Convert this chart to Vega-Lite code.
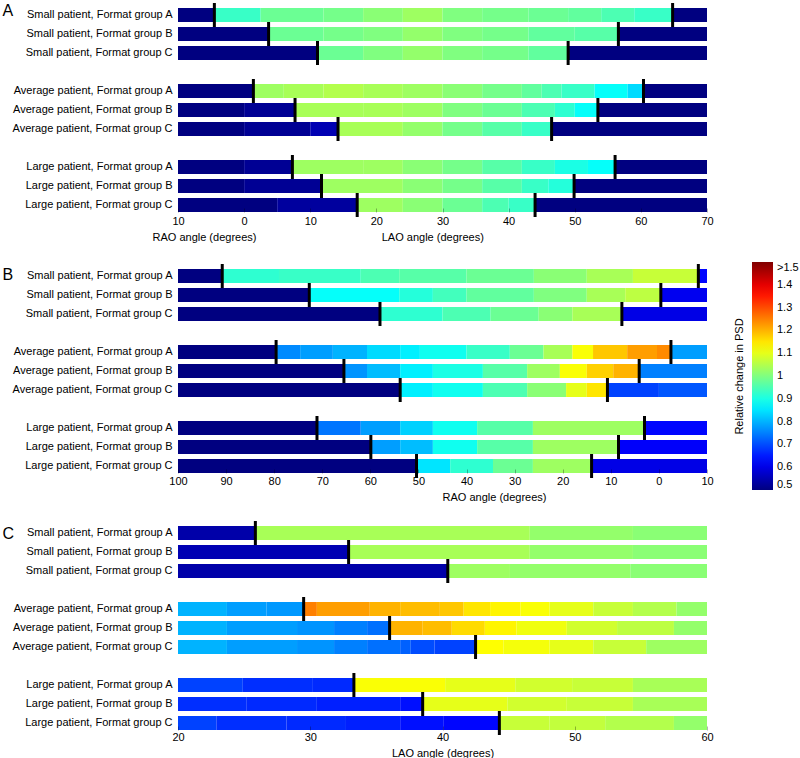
{
  "$schema": "https://vega.github.io/schema/vega-lite/v6.json",
  "padding": {"left": 2, "top": 2, "right": 0, "bottom": 0},
  "background": "white",
  "spacing": 19,
  "config": {
    "font": "Liberation Sans",
    "view": {"stroke": null},
    "axis": {"labelColor": "black", "titleColor": "black", "labelFontSize": 11, "titleFontSize": 11, "titleFontWeight": "normal", "grid": false, "labelFont": "Liberation Sans", "titleFont": "Liberation Sans"},
    "legend": {"labelColor": "black", "titleColor": "black", "labelFontSize": 11, "titleFontSize": 11, "titleFontWeight": "normal"}
  },
  "resolve": {"scale": {"color": "independent", "x": "independent", "y": "independent"}, "legend": {"color": "independent"}},
  "datasets": {
    "A": [
      {"row": "Small patient, Format group A", "x0": -10, "x1": -4.5, "v": 0.5},
      {"row": "Small patient, Format group A", "x0": -4.5, "x1": 2.5, "v": 0.93},
      {"row": "Small patient, Format group A", "x0": 2.5, "x1": 12, "v": 0.98},
      {"row": "Small patient, Format group A", "x0": 12, "x1": 18, "v": 0.99},
      {"row": "Small patient, Format group A", "x0": 18, "x1": 24, "v": 1.01},
      {"row": "Small patient, Format group A", "x0": 24, "x1": 30, "v": 1.03},
      {"row": "Small patient, Format group A", "x0": 30, "x1": 36, "v": 1.0},
      {"row": "Small patient, Format group A", "x0": 36, "x1": 43, "v": 0.99},
      {"row": "Small patient, Format group A", "x0": 43, "x1": 49, "v": 0.98},
      {"row": "Small patient, Format group A", "x0": 49, "x1": 54, "v": 0.97},
      {"row": "Small patient, Format group A", "x0": 54, "x1": 59, "v": 0.95},
      {"row": "Small patient, Format group A", "x0": 59, "x1": 64.8, "v": 0.93},
      {"row": "Small patient, Format group A", "x0": 64.8, "x1": 70, "v": 0.5},
      {"row": "Small patient, Format group B", "x0": -10, "x1": 3.7, "v": 0.5},
      {"row": "Small patient, Format group B", "x0": 3.7, "x1": 12, "v": 0.98},
      {"row": "Small patient, Format group B", "x0": 12, "x1": 18, "v": 0.99},
      {"row": "Small patient, Format group B", "x0": 18, "x1": 24, "v": 1.0},
      {"row": "Small patient, Format group B", "x0": 24, "x1": 30, "v": 1.02},
      {"row": "Small patient, Format group B", "x0": 30, "x1": 36, "v": 1.0},
      {"row": "Small patient, Format group B", "x0": 36, "x1": 43, "v": 0.99},
      {"row": "Small patient, Format group B", "x0": 43, "x1": 50, "v": 0.97},
      {"row": "Small patient, Format group B", "x0": 50, "x1": 56.6, "v": 0.96},
      {"row": "Small patient, Format group B", "x0": 56.6, "x1": 70, "v": 0.5},
      {"row": "Small patient, Format group C", "x0": -10, "x1": 11.1, "v": 0.5},
      {"row": "Small patient, Format group C", "x0": 11.1, "x1": 18, "v": 0.98},
      {"row": "Small patient, Format group C", "x0": 18, "x1": 24, "v": 1.0},
      {"row": "Small patient, Format group C", "x0": 24, "x1": 30, "v": 1.02},
      {"row": "Small patient, Format group C", "x0": 30, "x1": 36, "v": 1.0},
      {"row": "Small patient, Format group C", "x0": 36, "x1": 43, "v": 0.99},
      {"row": "Small patient, Format group C", "x0": 43, "x1": 49, "v": 0.97},
      {"row": "Small patient, Format group C", "x0": 49, "x1": 70, "v": 0.5},
      {"row": "Average patient, Format group A", "x0": -10, "x1": 1.4, "v": 0.5},
      {"row": "Average patient, Format group A", "x0": 1.4, "x1": 6, "v": 1.03},
      {"row": "Average patient, Format group A", "x0": 6, "x1": 12, "v": 1.04},
      {"row": "Average patient, Format group A", "x0": 12, "x1": 18, "v": 1.05},
      {"row": "Average patient, Format group A", "x0": 18, "x1": 24, "v": 1.04},
      {"row": "Average patient, Format group A", "x0": 24, "x1": 30, "v": 1.03},
      {"row": "Average patient, Format group A", "x0": 30, "x1": 36, "v": 1.01},
      {"row": "Average patient, Format group A", "x0": 36, "x1": 42, "v": 0.99},
      {"row": "Average patient, Format group A", "x0": 42, "x1": 45, "v": 0.97},
      {"row": "Average patient, Format group A", "x0": 45, "x1": 48, "v": 0.95},
      {"row": "Average patient, Format group A", "x0": 48, "x1": 53, "v": 0.93},
      {"row": "Average patient, Format group A", "x0": 53, "x1": 58, "v": 0.88},
      {"row": "Average patient, Format group A", "x0": 58, "x1": 60.4, "v": 0.84},
      {"row": "Average patient, Format group A", "x0": 60.4, "x1": 70, "v": 0.5},
      {"row": "Average patient, Format group B", "x0": -10, "x1": 0, "v": 0.5},
      {"row": "Average patient, Format group B", "x0": 0, "x1": 7.7, "v": 0.52},
      {"row": "Average patient, Format group B", "x0": 7.7, "x1": 18, "v": 1.04},
      {"row": "Average patient, Format group B", "x0": 18, "x1": 24, "v": 1.04},
      {"row": "Average patient, Format group B", "x0": 24, "x1": 30, "v": 1.03},
      {"row": "Average patient, Format group B", "x0": 30, "x1": 36, "v": 1.0},
      {"row": "Average patient, Format group B", "x0": 36, "x1": 42, "v": 0.98},
      {"row": "Average patient, Format group B", "x0": 42, "x1": 47, "v": 0.95},
      {"row": "Average patient, Format group B", "x0": 47, "x1": 50, "v": 0.92},
      {"row": "Average patient, Format group B", "x0": 50, "x1": 53.5, "v": 0.88},
      {"row": "Average patient, Format group B", "x0": 53.5, "x1": 70, "v": 0.5},
      {"row": "Average patient, Format group C", "x0": -10, "x1": 0, "v": 0.5},
      {"row": "Average patient, Format group C", "x0": 0, "x1": 10, "v": 0.52},
      {"row": "Average patient, Format group C", "x0": 10, "x1": 14.2, "v": 0.55},
      {"row": "Average patient, Format group C", "x0": 14.2, "x1": 24, "v": 1.04},
      {"row": "Average patient, Format group C", "x0": 24, "x1": 30, "v": 1.02},
      {"row": "Average patient, Format group C", "x0": 30, "x1": 36, "v": 0.99},
      {"row": "Average patient, Format group C", "x0": 36, "x1": 42, "v": 0.96},
      {"row": "Average patient, Format group C", "x0": 42, "x1": 46.5, "v": 0.93},
      {"row": "Average patient, Format group C", "x0": 46.5, "x1": 70, "v": 0.5},
      {"row": "Large patient, Format group A", "x0": -10, "x1": 0, "v": 0.5},
      {"row": "Large patient, Format group A", "x0": 0, "x1": 7.3, "v": 0.52},
      {"row": "Large patient, Format group A", "x0": 7.3, "x1": 18, "v": 1.03},
      {"row": "Large patient, Format group A", "x0": 18, "x1": 24, "v": 1.03},
      {"row": "Large patient, Format group A", "x0": 24, "x1": 30, "v": 1.01},
      {"row": "Large patient, Format group A", "x0": 30, "x1": 36, "v": 0.99},
      {"row": "Large patient, Format group A", "x0": 36, "x1": 42, "v": 0.96},
      {"row": "Large patient, Format group A", "x0": 42, "x1": 47, "v": 0.93},
      {"row": "Large patient, Format group A", "x0": 47, "x1": 52, "v": 0.9},
      {"row": "Large patient, Format group A", "x0": 52, "x1": 56.1, "v": 0.88},
      {"row": "Large patient, Format group A", "x0": 56.1, "x1": 70, "v": 0.5},
      {"row": "Large patient, Format group B", "x0": -10, "x1": 0, "v": 0.5},
      {"row": "Large patient, Format group B", "x0": 0, "x1": 11.7, "v": 0.52},
      {"row": "Large patient, Format group B", "x0": 11.7, "x1": 24, "v": 1.03},
      {"row": "Large patient, Format group B", "x0": 24, "x1": 30, "v": 1.01},
      {"row": "Large patient, Format group B", "x0": 30, "x1": 36, "v": 0.99},
      {"row": "Large patient, Format group B", "x0": 36, "x1": 42, "v": 0.96},
      {"row": "Large patient, Format group B", "x0": 42, "x1": 46, "v": 0.93},
      {"row": "Large patient, Format group B", "x0": 46, "x1": 49.9, "v": 0.91},
      {"row": "Large patient, Format group B", "x0": 49.9, "x1": 70, "v": 0.5},
      {"row": "Large patient, Format group C", "x0": -10, "x1": 5, "v": 0.5},
      {"row": "Large patient, Format group C", "x0": 5, "x1": 17.1, "v": 0.53},
      {"row": "Large patient, Format group C", "x0": 17.1, "x1": 24, "v": 1.03},
      {"row": "Large patient, Format group C", "x0": 24, "x1": 30, "v": 1.01},
      {"row": "Large patient, Format group C", "x0": 30, "x1": 36, "v": 0.98},
      {"row": "Large patient, Format group C", "x0": 36, "x1": 40, "v": 0.95},
      {"row": "Large patient, Format group C", "x0": 40, "x1": 44, "v": 0.93},
      {"row": "Large patient, Format group C", "x0": 44, "x1": 70, "v": 0.5}
    ],
    "B": [
      {"row": "Small patient, Format group A", "x0": 100, "x1": 90.8, "v": 0.5},
      {"row": "Small patient, Format group A", "x0": 90.8, "x1": 79, "v": 0.92},
      {"row": "Small patient, Format group A", "x0": 79, "x1": 62, "v": 0.93},
      {"row": "Small patient, Format group A", "x0": 62, "x1": 54, "v": 0.95},
      {"row": "Small patient, Format group A", "x0": 54, "x1": 40, "v": 0.96},
      {"row": "Small patient, Format group A", "x0": 40, "x1": 26, "v": 0.98},
      {"row": "Small patient, Format group A", "x0": 26, "x1": 15, "v": 1.01},
      {"row": "Small patient, Format group A", "x0": 15, "x1": 5.4, "v": 1.04},
      {"row": "Small patient, Format group A", "x0": 5.4, "x1": -8.2, "v": 1.07},
      {"row": "Small patient, Format group A", "x0": -8.2, "x1": -10, "v": 0.63},
      {"row": "Small patient, Format group B", "x0": 100, "x1": 72.7, "v": 0.5},
      {"row": "Small patient, Format group B", "x0": 72.7, "x1": 54, "v": 0.88},
      {"row": "Small patient, Format group B", "x0": 54, "x1": 47, "v": 0.91},
      {"row": "Small patient, Format group B", "x0": 47, "x1": 40, "v": 0.94},
      {"row": "Small patient, Format group B", "x0": 40, "x1": 26, "v": 0.97},
      {"row": "Small patient, Format group B", "x0": 26, "x1": 15, "v": 1.0},
      {"row": "Small patient, Format group B", "x0": 15, "x1": 7, "v": 1.04},
      {"row": "Small patient, Format group B", "x0": 7, "x1": -0.4, "v": 1.06},
      {"row": "Small patient, Format group B", "x0": -0.4, "x1": -10, "v": 0.61},
      {"row": "Small patient, Format group C", "x0": 100, "x1": 58, "v": 0.5},
      {"row": "Small patient, Format group C", "x0": 58, "x1": 45, "v": 0.92},
      {"row": "Small patient, Format group C", "x0": 45, "x1": 35, "v": 0.95},
      {"row": "Small patient, Format group C", "x0": 35, "x1": 25, "v": 0.98},
      {"row": "Small patient, Format group C", "x0": 25, "x1": 18, "v": 1.01},
      {"row": "Small patient, Format group C", "x0": 18, "x1": 7.7, "v": 1.04},
      {"row": "Small patient, Format group C", "x0": 7.7, "x1": -10, "v": 0.6},
      {"row": "Average patient, Format group A", "x0": 100, "x1": 79.6, "v": 0.5},
      {"row": "Average patient, Format group A", "x0": 79.6, "x1": 74.6, "v": 0.76},
      {"row": "Average patient, Format group A", "x0": 74.6, "x1": 67.8, "v": 0.78},
      {"row": "Average patient, Format group A", "x0": 67.8, "x1": 60.7, "v": 0.8},
      {"row": "Average patient, Format group A", "x0": 60.7, "x1": 53.8, "v": 0.84},
      {"row": "Average patient, Format group A", "x0": 53.8, "x1": 49.7, "v": 0.86},
      {"row": "Average patient, Format group A", "x0": 49.7, "x1": 40, "v": 0.89},
      {"row": "Average patient, Format group A", "x0": 40, "x1": 31, "v": 0.93},
      {"row": "Average patient, Format group A", "x0": 31, "x1": 24, "v": 0.98},
      {"row": "Average patient, Format group A", "x0": 24, "x1": 18, "v": 1.04},
      {"row": "Average patient, Format group A", "x0": 18, "x1": 13.7, "v": 1.12},
      {"row": "Average patient, Format group A", "x0": 13.7, "x1": 6.6, "v": 1.18},
      {"row": "Average patient, Format group A", "x0": 6.6, "x1": 0.4, "v": 1.22},
      {"row": "Average patient, Format group A", "x0": 0.4, "x1": -2.5, "v": 1.24},
      {"row": "Average patient, Format group A", "x0": -2.5, "x1": -10, "v": 0.78},
      {"row": "Average patient, Format group B", "x0": 100, "x1": 65.5, "v": 0.5},
      {"row": "Average patient, Format group B", "x0": 65.5, "x1": 60.7, "v": 0.77},
      {"row": "Average patient, Format group B", "x0": 60.7, "x1": 53.8, "v": 0.81},
      {"row": "Average patient, Format group B", "x0": 53.8, "x1": 47, "v": 0.86},
      {"row": "Average patient, Format group B", "x0": 47, "x1": 36.6, "v": 0.9},
      {"row": "Average patient, Format group B", "x0": 36.6, "x1": 27.4, "v": 0.96},
      {"row": "Average patient, Format group B", "x0": 27.4, "x1": 20.6, "v": 1.03},
      {"row": "Average patient, Format group B", "x0": 20.6, "x1": 15, "v": 1.12},
      {"row": "Average patient, Format group B", "x0": 15, "x1": 9.5, "v": 1.17},
      {"row": "Average patient, Format group B", "x0": 9.5, "x1": 4.1, "v": 1.2},
      {"row": "Average patient, Format group B", "x0": 4.1, "x1": -10, "v": 0.75},
      {"row": "Average patient, Format group C", "x0": 100, "x1": 53.8, "v": 0.5},
      {"row": "Average patient, Format group C", "x0": 53.8, "x1": 47, "v": 0.86},
      {"row": "Average patient, Format group C", "x0": 47, "x1": 36.6, "v": 0.89},
      {"row": "Average patient, Format group C", "x0": 36.6, "x1": 27.4, "v": 0.95},
      {"row": "Average patient, Format group C", "x0": 27.4, "x1": 19.3, "v": 1.01},
      {"row": "Average patient, Format group C", "x0": 19.3, "x1": 15, "v": 1.1},
      {"row": "Average patient, Format group C", "x0": 15, "x1": 10.7, "v": 1.15},
      {"row": "Average patient, Format group C", "x0": 10.7, "x1": 0, "v": 0.69},
      {"row": "Average patient, Format group C", "x0": 0, "x1": -10, "v": 0.71},
      {"row": "Large patient, Format group A", "x0": 100, "x1": 71.1, "v": 0.5},
      {"row": "Large patient, Format group A", "x0": 71.1, "x1": 62, "v": 0.74},
      {"row": "Large patient, Format group A", "x0": 62, "x1": 53.8, "v": 0.78},
      {"row": "Large patient, Format group A", "x0": 53.8, "x1": 47, "v": 0.83},
      {"row": "Large patient, Format group A", "x0": 47, "x1": 37.8, "v": 0.89},
      {"row": "Large patient, Format group A", "x0": 37.8, "x1": 26.2, "v": 0.96},
      {"row": "Large patient, Format group A", "x0": 26.2, "x1": 3, "v": 1.03},
      {"row": "Large patient, Format group A", "x0": 3, "x1": -10, "v": 0.63},
      {"row": "Large patient, Format group B", "x0": 100, "x1": 59.9, "v": 0.5},
      {"row": "Large patient, Format group B", "x0": 59.9, "x1": 53.8, "v": 0.78},
      {"row": "Large patient, Format group B", "x0": 53.8, "x1": 47, "v": 0.81},
      {"row": "Large patient, Format group B", "x0": 47, "x1": 37.8, "v": 0.89},
      {"row": "Large patient, Format group B", "x0": 37.8, "x1": 26.2, "v": 0.96},
      {"row": "Large patient, Format group B", "x0": 26.2, "x1": 8.4, "v": 1.03},
      {"row": "Large patient, Format group B", "x0": 8.4, "x1": -10, "v": 0.62},
      {"row": "Large patient, Format group C", "x0": 100, "x1": 50.4, "v": 0.5},
      {"row": "Large patient, Format group C", "x0": 50.4, "x1": 43.4, "v": 0.85},
      {"row": "Large patient, Format group C", "x0": 43.4, "x1": 34.5, "v": 0.92},
      {"row": "Large patient, Format group C", "x0": 34.5, "x1": 26.2, "v": 0.98},
      {"row": "Large patient, Format group C", "x0": 26.2, "x1": 14, "v": 1.03},
      {"row": "Large patient, Format group C", "x0": 14, "x1": -10, "v": 0.6}
    ],
    "C": [
      {"row": "Small patient, Format group A", "x0": 20, "x1": 25.85, "v": 0.54},
      {"row": "Small patient, Format group A", "x0": 25.85, "x1": 46.6, "v": 1.04},
      {"row": "Small patient, Format group A", "x0": 46.6, "x1": 54.4, "v": 1.02},
      {"row": "Small patient, Format group A", "x0": 54.4, "x1": 60, "v": 1.01},
      {"row": "Small patient, Format group B", "x0": 20, "x1": 32.9, "v": 0.55},
      {"row": "Small patient, Format group B", "x0": 32.9, "x1": 46.6, "v": 1.04},
      {"row": "Small patient, Format group B", "x0": 46.6, "x1": 54.4, "v": 1.02},
      {"row": "Small patient, Format group B", "x0": 54.4, "x1": 60, "v": 1.01},
      {"row": "Small patient, Format group C", "x0": 20, "x1": 40.4, "v": 0.54},
      {"row": "Small patient, Format group C", "x0": 40.4, "x1": 45.1, "v": 1.03},
      {"row": "Small patient, Format group C", "x0": 45.1, "x1": 54.2, "v": 1.02},
      {"row": "Small patient, Format group C", "x0": 54.2, "x1": 60, "v": 1.01},
      {"row": "Average patient, Format group A", "x0": 20, "x1": 23.7, "v": 0.8},
      {"row": "Average patient, Format group A", "x0": 23.7, "x1": 26.7, "v": 0.78},
      {"row": "Average patient, Format group A", "x0": 26.7, "x1": 29.5, "v": 0.775},
      {"row": "Average patient, Format group A", "x0": 29.5, "x1": 30.5, "v": 1.25},
      {"row": "Average patient, Format group A", "x0": 30.5, "x1": 34.5, "v": 1.22},
      {"row": "Average patient, Format group A", "x0": 34.5, "x1": 36.8, "v": 1.2},
      {"row": "Average patient, Format group A", "x0": 36.8, "x1": 39.8, "v": 1.19},
      {"row": "Average patient, Format group A", "x0": 39.8, "x1": 41.6, "v": 1.18},
      {"row": "Average patient, Format group A", "x0": 41.6, "x1": 43.6, "v": 1.15},
      {"row": "Average patient, Format group A", "x0": 43.6, "x1": 45.9, "v": 1.135},
      {"row": "Average patient, Format group A", "x0": 45.9, "x1": 48.1, "v": 1.12},
      {"row": "Average patient, Format group A", "x0": 48.1, "x1": 51.4, "v": 1.1},
      {"row": "Average patient, Format group A", "x0": 51.4, "x1": 54.4, "v": 1.07},
      {"row": "Average patient, Format group A", "x0": 54.4, "x1": 57.7, "v": 1.05},
      {"row": "Average patient, Format group A", "x0": 57.7, "x1": 60, "v": 1.02},
      {"row": "Average patient, Format group B", "x0": 20, "x1": 23.7, "v": 0.8},
      {"row": "Average patient, Format group B", "x0": 23.7, "x1": 29, "v": 0.78},
      {"row": "Average patient, Format group B", "x0": 29, "x1": 31.8, "v": 0.77},
      {"row": "Average patient, Format group B", "x0": 31.8, "x1": 34.3, "v": 0.75},
      {"row": "Average patient, Format group B", "x0": 34.3, "x1": 36, "v": 0.735},
      {"row": "Average patient, Format group B", "x0": 36, "x1": 38.5, "v": 1.2},
      {"row": "Average patient, Format group B", "x0": 38.5, "x1": 40.7, "v": 1.19},
      {"row": "Average patient, Format group B", "x0": 40.7, "x1": 43.2, "v": 1.16},
      {"row": "Average patient, Format group B", "x0": 43.2, "x1": 45.6, "v": 1.135},
      {"row": "Average patient, Format group B", "x0": 45.6, "x1": 49.4, "v": 1.11},
      {"row": "Average patient, Format group B", "x0": 49.4, "x1": 53.2, "v": 1.08},
      {"row": "Average patient, Format group B", "x0": 53.2, "x1": 57.5, "v": 1.06},
      {"row": "Average patient, Format group B", "x0": 57.5, "x1": 60, "v": 1.02},
      {"row": "Average patient, Format group C", "x0": 20, "x1": 23.7, "v": 0.8},
      {"row": "Average patient, Format group C", "x0": 23.7, "x1": 29, "v": 0.78},
      {"row": "Average patient, Format group C", "x0": 29, "x1": 31.8, "v": 0.77},
      {"row": "Average patient, Format group C", "x0": 31.8, "x1": 34.3, "v": 0.75},
      {"row": "Average patient, Format group C", "x0": 34.3, "x1": 36.8, "v": 0.735},
      {"row": "Average patient, Format group C", "x0": 36.8, "x1": 37.6, "v": 0.72},
      {"row": "Average patient, Format group C", "x0": 37.6, "x1": 39.4, "v": 0.7},
      {"row": "Average patient, Format group C", "x0": 39.4, "x1": 42.5, "v": 0.69},
      {"row": "Average patient, Format group C", "x0": 42.5, "x1": 44.6, "v": 1.125},
      {"row": "Average patient, Format group C", "x0": 44.6, "x1": 48.1, "v": 1.115},
      {"row": "Average patient, Format group C", "x0": 48.1, "x1": 51.4, "v": 1.1},
      {"row": "Average patient, Format group C", "x0": 51.4, "x1": 55.4, "v": 1.07},
      {"row": "Average patient, Format group C", "x0": 55.4, "x1": 60, "v": 1.03},
      {"row": "Large patient, Format group A", "x0": 20, "x1": 24.9, "v": 0.69},
      {"row": "Large patient, Format group A", "x0": 24.9, "x1": 30.2, "v": 0.67},
      {"row": "Large patient, Format group A", "x0": 30.2, "x1": 33.3, "v": 0.665},
      {"row": "Large patient, Format group A", "x0": 33.3, "x1": 40.2, "v": 1.12},
      {"row": "Large patient, Format group A", "x0": 40.2, "x1": 45.5, "v": 1.1},
      {"row": "Large patient, Format group A", "x0": 45.5, "x1": 49.8, "v": 1.08},
      {"row": "Large patient, Format group A", "x0": 49.8, "x1": 54.4, "v": 1.07},
      {"row": "Large patient, Format group A", "x0": 54.4, "x1": 60, "v": 1.04},
      {"row": "Large patient, Format group B", "x0": 20, "x1": 25.2, "v": 0.67},
      {"row": "Large patient, Format group B", "x0": 25.2, "x1": 30.5, "v": 0.665},
      {"row": "Large patient, Format group B", "x0": 30.5, "x1": 36.8, "v": 0.655},
      {"row": "Large patient, Format group B", "x0": 36.8, "x1": 38.5, "v": 0.64},
      {"row": "Large patient, Format group B", "x0": 38.5, "x1": 44.9, "v": 1.1},
      {"row": "Large patient, Format group B", "x0": 44.9, "x1": 49.4, "v": 1.08},
      {"row": "Large patient, Format group B", "x0": 49.4, "x1": 54.4, "v": 1.07},
      {"row": "Large patient, Format group B", "x0": 54.4, "x1": 60, "v": 1.04},
      {"row": "Large patient, Format group C", "x0": 20, "x1": 22.9, "v": 0.69},
      {"row": "Large patient, Format group C", "x0": 22.9, "x1": 28.2, "v": 0.67},
      {"row": "Large patient, Format group C", "x0": 28.2, "x1": 32.7, "v": 0.665},
      {"row": "Large patient, Format group C", "x0": 32.7, "x1": 36.8, "v": 0.655},
      {"row": "Large patient, Format group C", "x0": 36.8, "x1": 40.1, "v": 0.64},
      {"row": "Large patient, Format group C", "x0": 40.1, "x1": 44.3, "v": 0.63},
      {"row": "Large patient, Format group C", "x0": 44.3, "x1": 48.1, "v": 1.07},
      {"row": "Large patient, Format group C", "x0": 48.1, "x1": 52.3, "v": 1.065},
      {"row": "Large patient, Format group C", "x0": 52.3, "x1": 57.5, "v": 1.05},
      {"row": "Large patient, Format group C", "x0": 57.5, "x1": 60, "v": 1.02}
    ],
    "mA": [
      {"row": "Small patient, Format group A", "angle": -4.5},
      {"row": "Small patient, Format group A", "angle": 64.8},
      {"row": "Small patient, Format group B", "angle": 3.7},
      {"row": "Small patient, Format group B", "angle": 56.6},
      {"row": "Small patient, Format group C", "angle": 11.1},
      {"row": "Small patient, Format group C", "angle": 49.0},
      {"row": "Average patient, Format group A", "angle": 1.4},
      {"row": "Average patient, Format group A", "angle": 60.4},
      {"row": "Average patient, Format group B", "angle": 7.7},
      {"row": "Average patient, Format group B", "angle": 53.5},
      {"row": "Average patient, Format group C", "angle": 14.2},
      {"row": "Average patient, Format group C", "angle": 46.5},
      {"row": "Large patient, Format group A", "angle": 7.3},
      {"row": "Large patient, Format group A", "angle": 56.1},
      {"row": "Large patient, Format group B", "angle": 11.7},
      {"row": "Large patient, Format group B", "angle": 49.9},
      {"row": "Large patient, Format group C", "angle": 17.1},
      {"row": "Large patient, Format group C", "angle": 44.0}
    ],
    "mB": [
      {"row": "Small patient, Format group A", "angle": 90.8},
      {"row": "Small patient, Format group A", "angle": -8.2},
      {"row": "Small patient, Format group B", "angle": 72.7},
      {"row": "Small patient, Format group B", "angle": -0.4},
      {"row": "Small patient, Format group C", "angle": 58.0},
      {"row": "Small patient, Format group C", "angle": 7.7},
      {"row": "Average patient, Format group A", "angle": 79.6},
      {"row": "Average patient, Format group A", "angle": -2.5},
      {"row": "Average patient, Format group B", "angle": 65.5},
      {"row": "Average patient, Format group B", "angle": 4.1},
      {"row": "Average patient, Format group C", "angle": 53.8},
      {"row": "Average patient, Format group C", "angle": 10.7},
      {"row": "Large patient, Format group A", "angle": 71.1},
      {"row": "Large patient, Format group A", "angle": 3.0},
      {"row": "Large patient, Format group B", "angle": 59.9},
      {"row": "Large patient, Format group B", "angle": 8.4},
      {"row": "Large patient, Format group C", "angle": 50.4},
      {"row": "Large patient, Format group C", "angle": 14.0}
    ],
    "mC": [
      {"row": "Small patient, Format group A", "angle": 25.85},
      {"row": "Small patient, Format group B", "angle": 32.9},
      {"row": "Small patient, Format group C", "angle": 40.4},
      {"row": "Average patient, Format group A", "angle": 29.5},
      {"row": "Average patient, Format group B", "angle": 36.0},
      {"row": "Average patient, Format group C", "angle": 42.5},
      {"row": "Large patient, Format group A", "angle": 33.3},
      {"row": "Large patient, Format group B", "angle": 38.5},
      {"row": "Large patient, Format group C", "angle": 44.3}
    ]
  },
  "vconcat": [
    {
      "width": 529, "height": 204,
      "layer": [
        {
          "data": {"name": "A"},
          "mark": {"type": "rect"},
          "encoding": {
            "y": {"field": "row", "type": "nominal",
              "scale": {"domain": ["Small patient, Format group A", "Small patient, Format group B", "Small patient, Format group C", " ", "Average patient, Format group A", "Average patient, Format group B", "Average patient, Format group C", "  ", "Large patient, Format group A", "Large patient, Format group B", "Large patient, Format group C"], "paddingInner": 0.263, "paddingOuter": 0},
              "axis": {"title": "A", "titleAngle": 0, "titleX": -176, "titleY": 2.5, "titleAlign": "left", "titleBaseline": "middle", "titleFontSize": 16, "ticks": false, "domain": false, "labelPadding": 6}},
            "x": {"field": "x0", "type": "quantitative",
              "scale": {"domain": [-10, 70], "nice": false, "zero": false},
              "axis": {"values": [-10, 0, 10, 20, 30, 40, 50, 60, 70], "labelExpr": "'' + abs(datum.value)", "labelFlush": false, "labelPadding": 7.5, "ticks": true, "tickSize": -4, "tickColor": "#000000", "tickOpacity": 0.5, "tickWidth": 0.6, "domain": false, "zindex": 1,
                "title": "RAO angle (degrees)\u00a0\u00a0\u00a0\u00a0\u00a0\u00a0\u00a0\u00a0\u00a0\u00a0\u00a0\u00a0\u00a0\u00a0\u00a0\u00a0\u00a0\u00a0\u00a0\u00a0\u00a0\u00a0\u00a0\u00a0\u00a0\u00a0\u00a0\u00a0\u00a0\u00a0\u00a0\u00a0\u00a0\u00a0\u00a0\u00a0\u00a0\u00a0\u00a0\u00a0\u00a0LAO angle (degrees)",
                "titleX": -26, "titleAlign": "left", "titlePadding": 5}},
            "x2": {"field": "x1"},
            "color": {"field": "v", "type": "quantitative", "scale": {"type": "linear", "domain": [0.5, 0.625, 0.875, 1.125, 1.375, 1.5], "range": ["#000080", "#0000ff", "#00ffff", "#ffff00", "#ff0000", "#800000"], "interpolate": "rgb"}, "legend": null}
          }
        },
        {
          "data": {"name": "mA"},
          "mark": {"type": "tick", "color": "black", "opacity": 1, "thickness": 3, "size": 24},
          "encoding": {
            "x": {"field": "angle", "type": "quantitative"},
            "y": {"field": "row", "type": "nominal"}
          }
        }
      ]
    },
    {
      "width": 529, "height": 204,
      "resolve": {"axis": {"y": "independent"}},
      "layer": [
        {
          "data": {"name": "B"},
          "mark": {"type": "rect"},
          "encoding": {
            "y": {"field": "row", "type": "nominal",
              "scale": {"domain": ["Small patient, Format group A", "Small patient, Format group B", "Small patient, Format group C", " ", "Average patient, Format group A", "Average patient, Format group B", "Average patient, Format group C", "  ", "Large patient, Format group A", "Large patient, Format group B", "Large patient, Format group C"], "paddingInner": 0.263, "paddingOuter": 0},
              "axis": {"orient": "left", "title": "B", "titleAngle": 0, "titleX": -176, "titleY": 5.5, "titleAlign": "left", "titleBaseline": "middle", "titleFontSize": 16, "ticks": false, "domain": false, "labelPadding": 6}},
            "x": {"field": "x0", "type": "quantitative",
              "scale": {"domain": [-10, 100], "reverse": true, "nice": false, "zero": false},
              "axis": {"values": [100, 90, 80, 70, 60, 50, 40, 30, 20, 10, 0, -10], "labelExpr": "'' + abs(datum.value)", "labelFlush": false, "labelPadding": 6, "ticks": true, "tickSize": -4, "tickColor": "#000000", "tickOpacity": 0.5, "tickWidth": 0.6, "domain": false, "zindex": 1,
                "title": "RAO angle (degrees)", "titleX": 316, "titleAlign": "center", "titlePadding": 5}},
            "x2": {"field": "x1"},
            "color": {"field": "v", "type": "quantitative", "scale": {"type": "linear", "domain": [0.5, 0.625, 0.875, 1.125, 1.375, 1.5], "range": ["#000080", "#0000ff", "#00ffff", "#ffff00", "#ff0000", "#800000"], "interpolate": "rgb"},
              "legend": {"type": "gradient", "orient": "none", "legendX": 574, "legendY": -7, "direction": "vertical", "gradientLength": 228, "gradientThickness": 21, "gradientStrokeWidth": 0,
                "values": [0.5, 0.6, 0.7, 0.8, 0.9, 1.0, 1.1, 1.2, 1.3, 1.4, 1.5],
                "labelExpr": "datum.value >= 1.49 ? '>1.5' : format(datum.value, '.1~f')",
                "labelOffset": 4, "labelOverlap": false, "title": null}}
          }
        },
        {
          "data": {"name": "mB"},
          "mark": {"type": "tick", "color": "black", "opacity": 1, "thickness": 3, "size": 24},
          "encoding": {
            "x": {"field": "angle", "type": "quantitative"},
            "y": {"field": "row", "type": "nominal",
              "axis": {"orient": "right", "labels": false, "ticks": false, "domain": false, "grid": false, "title": "Relative change in PSD", "titleAngle": 270, "titleX": 32, "titleY": 107, "titleAlign": "center", "titleBaseline": "middle", "titleFontSize": 11}}
          }
        }
      ]
    },
    {
      "width": 529, "height": 204,
      "layer": [
        {
          "data": {"name": "C"},
          "mark": {"type": "rect"},
          "encoding": {
            "y": {"field": "row", "type": "nominal",
              "scale": {"domain": ["Small patient, Format group A", "Small patient, Format group B", "Small patient, Format group C", " ", "Average patient, Format group A", "Average patient, Format group B", "Average patient, Format group C", "  ", "Large patient, Format group A", "Large patient, Format group B", "Large patient, Format group C"], "paddingInner": 0.263, "paddingOuter": 0},
              "axis": {"title": "C", "titleAngle": 0, "titleX": -176, "titleY": 7.8, "titleAlign": "left", "titleBaseline": "middle", "titleFontSize": 16, "ticks": false, "domain": false, "labelPadding": 6}},
            "x": {"field": "x0", "type": "quantitative",
              "scale": {"domain": [20, 60], "nice": false, "zero": false},
              "axis": {"values": [20, 30, 40, 50, 60], "labelFlush": false, "labelPadding": 5.5, "ticks": true, "tickSize": -4, "tickColor": "#000000", "tickOpacity": 0.5, "tickWidth": 0.6, "domain": false, "zindex": 1,
                "title": "LAO angle (degrees)", "titlePadding": 5}},
            "x2": {"field": "x1"},
            "color": {"field": "v", "type": "quantitative", "scale": {"type": "linear", "domain": [0.5, 0.625, 0.875, 1.125, 1.375, 1.5], "range": ["#000080", "#0000ff", "#00ffff", "#ffff00", "#ff0000", "#800000"], "interpolate": "rgb"}, "legend": null}
          }
        },
        {
          "data": {"name": "mC"},
          "mark": {"type": "tick", "color": "black", "opacity": 1, "thickness": 3, "size": 24},
          "encoding": {
            "x": {"field": "angle", "type": "quantitative"},
            "y": {"field": "row", "type": "nominal"}
          }
        }
      ]
    }
  ]
}
